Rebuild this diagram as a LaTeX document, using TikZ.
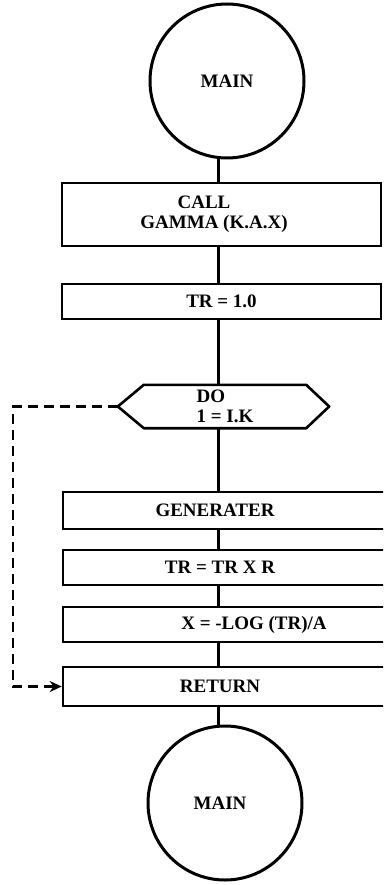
\documentclass[tikz,border=0pt]{standalone}
\usepackage{fontspec}
\setmainfont{Liberation Serif}
\usetikzlibrary{arrows.meta}
\begin{document}
\begin{tikzpicture}[x=1pt,y=-1pt,
  every node/.style={font=\fontsize{19}{20}\selectfont\bfseries},
  term/.style={circle,draw,line width=3pt,minimum size=154pt,inner sep=0pt},
  procbox/.style={draw,line width=2.6pt,minimum width=319pt,inner sep=0pt,align=center},
  lowbox/.style={draw,line width=2.6pt,minimum width=327pt,inner sep=0pt,align=center},
  flow/.style={line width=3pt},
  loopline/.style={line width=2.8pt,dash pattern=on 10pt off 6pt,-{Stealth[length=12pt,width=11pt]}}]
\useasboundingbox (0,0) rectangle (383,885);
\clip (0,0) rectangle (383,885);
\coordinate (lx) at (218,0);
\coordinate (lc) at (13,0);

\node[term] (top) at (227,81) {MAIN};
\node[procbox,minimum height=63pt] (call) at (221.5,214.5) {CALL\hspace*{35pt}\\GAMMA (K.A.X)\hspace*{15pt}};
\node[procbox,minimum height=35pt] (tr1) at (221.5,301.5) {TR = 1.0};
\node[minimum width=162pt,minimum height=43pt,inner sep=0pt,align=left] (do) at (225,406.5) {DO\\1 = I.K};
\draw[line width=2.6pt,line join=round] (do.north west) -- (do.north east) -- ([xshift=23pt]do.east)
  -- (do.south east) -- (do.south west) -- ([xshift=-26pt]do.west) -- cycle;
\node[lowbox,minimum height=37pt] (gen) at (226.5,510.5) {GENERATER\hspace*{23pt}};
\node[lowbox,minimum height=35pt] (trr) at (226.5,567.5) {TR = TR X R\hspace*{13pt}};
\node[lowbox,minimum height=35pt] (xlog) at (226.5,624.5) {\hspace*{55pt}X = -LOG (TR)/A};
\node[lowbox,minimum height=39pt] (ret) at (226.5,686.5) {RETURN\hspace*{13pt}};
\node[term] (bot) at (225,803) {MAIN\hspace*{10pt}};

\draw[flow] (top.south -| lx) -- (call.north -| lx);
\draw[flow] (call.south -| lx) -- (tr1.north -| lx);
\draw[flow] (tr1.south -| lx) -- (do.north -| lx);
\draw[flow] (do.south -| lx) -- (gen.north -| lx);
\draw[flow] (gen.south -| lx) -- (trr.north -| lx);
\draw[flow] (trr.south -| lx) -- (xlog.north -| lx);
\draw[flow] (xlog.south -| lx) -- (ret.north -| lx);
\draw[flow] (ret.south -| lx) -- (bot.north -| lx);

\draw[loopline] ([xshift=-26pt]do.west) -- (lc |- do.west) -- (lc |- ret.west) -- (ret.west);
\end{tikzpicture}
\end{document}
